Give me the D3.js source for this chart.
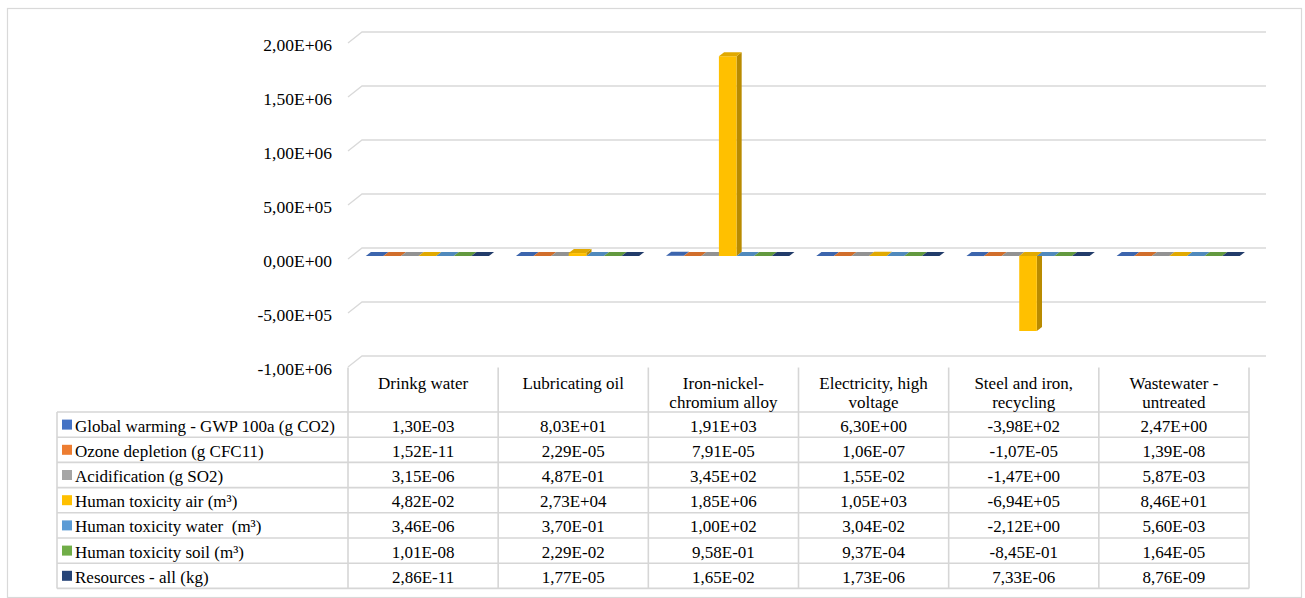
<!DOCTYPE html>
<html>
<head>
<meta charset="utf-8">
<script src="https://cdn.jsdelivr.net/npm/d3@7/dist/d3.min.js"></script>
<style>
  html, body { margin: 0; padding: 0; background: #fff; }
  svg { display: block; }
  text { font-family: "Liberation Serif", "Times New Roman", serif; fill: #000; white-space: pre; }
</style>
</head>
<body>
<svg id="chart" width="1305" height="598"></svg>
<script>
// Processes (columns of the data table)
const categories = [
  ["Drinkg water"],
  ["Lubricating oil"],
  ["Iron-nickel-", "chromium alloy"],
  ["Electricity, high", "voltage"],
  ["Steel and iron,", "recycling"],
  ["Wastewater -", "untreated"]
];

// Impact categories (series)
const seriesNames = [
  "Global warming - GWP 100a (g CO2)",
  "Ozone depletion (g CFC11)",
  "Acidification (g SO2)",
  "Human toxicity air (m³)",
  "Human toxicity water  (m³)",
  "Human toxicity soil (m³)",
  "Resources - all (kg)"
];

const seriesColors = ["#4472C4", "#ED7D31", "#A5A5A5", "#FFC000", "#5B9BD5", "#70AD47", "#264478"];

// Values per series, one entry per process
const globalWarming   = [1.30e-3, 8.03e1, 1.91e3, 6.30e0, -3.98e2, 2.47e0];
const ozoneDepletion  = [1.52e-11, 2.29e-5, 7.91e-5, 1.06e-7, -1.07e-5, 1.39e-8];
const acidification   = [3.15e-6, 4.87e-1, 3.45e2, 1.55e-2, -1.47e0, 5.87e-3];
const toxicityAir     = [4.82e-2, 2.73e4, 1.85e6, 1.05e3, -6.94e5, 8.46e1];
const toxicityWater   = [3.46e-6, 3.70e-1, 1.00e2, 3.04e-2, -2.12e0, 5.60e-3];
const toxicitySoil    = [1.01e-8, 2.29e-2, 9.58e-1, 9.37e-4, -8.45e-1, 1.64e-5];
const resources       = [2.86e-11, 1.77e-5, 1.65e-2, 1.73e-6, 7.33e-6, 8.76e-9];

const seriesValues = [globalWarming, ozoneDepletion, acidification, toxicityAir,
                      toxicityWater, toxicitySoil, resources];

const yTicks = [-1e6, -5e5, 0, 5e5, 1e6, 1.5e6, 2e6];

// Number format like "1,30E-03"
function sci(v) {
  const [m, e] = v.toExponential(2).split("e");
  const ex = parseInt(e, 10);
  const sign = ex < 0 ? "-" : "+";
  const mag = String(Math.abs(ex)).padStart(2, "0");
  return m.replace(".", ",") + "E" + sign + mag;
}

const svg = d3.select("#chart");

// Chart frame
svg.append("rect")
  .attr("x", 7.5).attr("y", 8.5).attr("width", 1294).attr("height", 589)
  .attr("fill", "#fff").attr("stroke", "#d9d9d9").attr("stroke-width", 1.2);

// Oblique 3D projection: depth 0 = front plane, depth 1 = back wall
const depthDX = 14, depthDY = 11;
const plotLeft = 348;
const tableRight = 1249;
const wallRight = 1266;

// Back-wall value scale
const y = d3.scaleLinear().domain([-1e6, 2e6]).range([356, 32]);
// Category bands on the front plane
const x = d3.scaleBand().domain(d3.range(categories.length)).range([plotLeft, tableRight]);
const xs = d3.scaleBand().domain(d3.range(seriesNames.length))
  .range([14, x.bandwidth() - 13]);

// screen point for (front-plane x, value, depth fraction)
function P(px, v, d) {
  return [px + depthDX * d, y(v) + depthDY * (1 - d)];
}

// Gridlines: side-wall slant + back-wall line
const grid = svg.append("g");
yTicks.forEach(t => {
  const a = P(plotLeft, t, 0), b = P(plotLeft, t, 1);
  grid.append("path")
    .attr("d", `M${a[0]},${a[1]}L${b[0]},${b[1]}L${wallRight},${b[1]}`)
    .attr("fill", "none").attr("stroke", "#d9d9d9").attr("stroke-width", 1.3);
});

// Value axis labels
svg.append("g").selectAll("text").data(yTicks).join("text")
  .attr("x", 332).attr("y", d => y(d) + 19)
  .attr("text-anchor", "end")
  .attr("font-size", 17.5)
  .text(d => sci(d));

// 3D columns
const d0 = 0.27, d1 = 0.64;
const bars = svg.append("g");
function shade(c, k) { return d3.color(c).darker(k).formatHex(); }
const poly = pts => "M" + pts.map(p => p.join(",")).join("L") + "Z";

categories.forEach((cat, ci) => {
  seriesValues.forEach((vals, si) => {
    const v = vals[ci];
    const xl = x(ci) + xs(si), xr = xl + xs.bandwidth();
    const hi = Math.max(v, 0), lo = Math.min(v, 0);
    const col = seriesColors[si];
    const fTL = P(xl, hi, d0), fTR = P(xr, hi, d0), fBR = P(xr, lo, d0), fBL = P(xl, lo, d0);
    const bTL = P(xl, hi, d1), bTR = P(xr, hi, d1), bBR = P(xr, lo, d1);
    // right side face
    bars.append("path").attr("d", poly([fTR, bTR, bBR, fBR]))
      .attr("fill", shade(col, 0.9));
    // front face
    bars.append("path").attr("d", poly([fTL, fTR, fBR, fBL]))
      .attr("fill", col);
    // top face
    bars.append("path").attr("d", poly([fTL, bTL, bTR, fTR]))
      .attr("fill", shade(col, 0.35));
  });
});

// Data table
const table = svg.append("g");
const headerTop = 367.5, rowTop = 412, rowH = 25.2;
const tableLeft = 57;
const nRows = seriesNames.length;
const tableBottom = rowTop + rowH * nRows;
const lineColor = "#d6d6d6";
const fs = 17;

// horizontal rules
d3.range(nRows + 1).forEach(i => {
  table.append("line")
    .attr("x1", tableLeft).attr("x2", tableRight)
    .attr("y1", rowTop + i * rowH).attr("y2", rowTop + i * rowH)
    .attr("stroke", lineColor).attr("stroke-width", 1.6);
});
// vertical rules
table.append("line").attr("x1", tableLeft).attr("x2", tableLeft)
  .attr("y1", rowTop).attr("y2", tableBottom).attr("stroke", lineColor).attr("stroke-width", 1.6);
d3.range(categories.length + 1).forEach(i => {
  const xx = i === categories.length ? tableRight : x(i);
  table.append("line").attr("x1", xx).attr("x2", xx)
    .attr("y1", headerTop).attr("y2", tableBottom)
    .attr("stroke", lineColor).attr("stroke-width", 1.6);
});

// column headers
categories.forEach((lines, ci) => {
  lines.forEach((ln, li) => {
    table.append("text")
      .attr("x", x(ci) + x.bandwidth() / 2).attr("y", 389 + li * 19)
      .attr("text-anchor", "middle").attr("font-size", fs)
      .text(ln);
  });
});

// legend keys, series names and values
seriesNames.forEach((name, si) => {
  const top = rowTop + si * rowH;
  const cy = top + rowH / 2;
  table.append("rect").attr("x", 62).attr("y", cy - 5).attr("width", 10).attr("height", 10)
    .attr("fill", seriesColors[si]);
  table.append("text").attr("x", 75).attr("y", top + 19.5)
    .attr("font-size", fs).text(name);
  seriesValues[si].forEach((v, ci) => {
    table.append("text")
      .attr("x", x(ci) + x.bandwidth() / 2).attr("y", top + 19.5)
      .attr("text-anchor", "middle").attr("font-size", fs)
      .text(sci(v));
  });
});
</script>
</body>
</html>
